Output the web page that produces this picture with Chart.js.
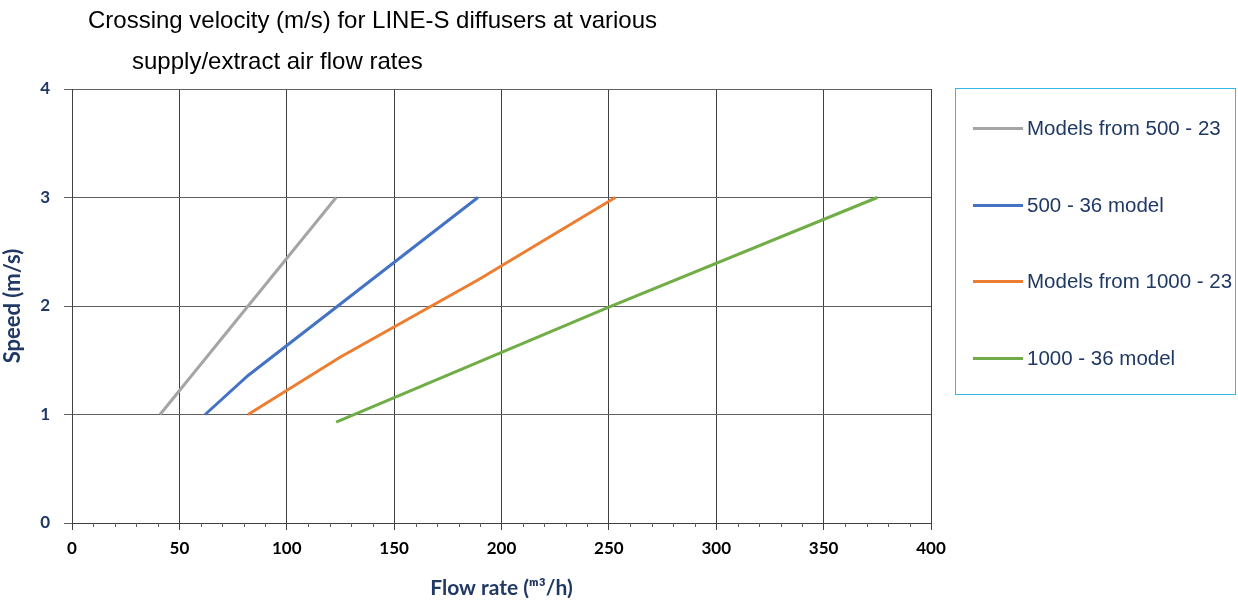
<!DOCTYPE html>
<html>
<head>
<meta charset="utf-8">
<script src="https://cdn.jsdelivr.net/npm/chart.js@4"></script>
<style>
  html, body { margin: 0; padding: 0; background: #fff; }
  #wrap { position: relative; width: 1238px; height: 601px; }
  #chart { position: absolute; left: 0; top: 0; }
  .title { position: absolute; font-family: "Liberation Sans", Arial, sans-serif; font-size: 24px; color: #000; white-space: nowrap; }
  #legend { position: absolute; left: 955px; top: 88px; width: 281px; height: 307px; border: 1px solid #33b8e8; box-sizing: border-box; }
  .item { position: absolute; left: 17px; height: 24px; display: flex; align-items: center; font-family: "Liberation Sans", Arial, sans-serif; font-size: 20.5px; color: #203864; white-space: nowrap; }
  .item span.swatch { display: inline-block; width: 50px; height: 3px; margin-right: 4px; }
</style>
</head>
<body>
<div id="wrap">
  <canvas id="chart" width="1238" height="601"></canvas>
  <div class="title" style="left:88px; top:6px;">Crossing velocity (m/s) for LINE-S diffusers at various</div>
  <div class="title" style="left:132px; top:47px;">supply/extract air flow rates</div>
  <div id="legend"></div>
</div>
<script>
// Crossing velocity chart - LINE-S diffusers

const seriesNames = ['Models from 500 - 23', '500 - 36 model', 'Models from 1000 - 23', '1000 - 36 model'];
const seriesColors = ['#a5a5a5', '#4472c4', '#ed7d31', '#70ad47'];

// flow rate (m3/h) and speed (m/s) per series
const grayFlow = [41, 82, 123];
const graySpeed = [1.0, 2.0, 3.0];
const blueFlow = [62, 82, 189];
const blueSpeed = [1.0, 1.36, 3.0];
const orangeFlow = [82, 125, 189, 253];
const orangeSpeed = [1.0, 1.53, 2.24, 3.0];
const greenFlow = [123, 250, 375];
const greenSpeed = [0.93, 1.99, 3.0];

const xTicks = [0, 50, 100, 150, 200, 250, 300, 350, 400];
const yTicks = [0, 1, 2, 3, 4];

function toPoints(xs, ys) {
    return xs.map((x, i) => ({ x: x, y: ys[i] }));
}

const allSeries = [
    toPoints(grayFlow, graySpeed),
    toPoints(blueFlow, blueSpeed),
    toPoints(orangeFlow, orangeSpeed),
    toPoints(greenFlow, greenSpeed)
];

const datasets = allSeries.map((pts, i) => ({
    label: seriesNames[i],
    data: pts,
    borderColor: seriesColors[i],
    backgroundColor: seriesColors[i],
    borderWidth: 3,
    pointRadius: 0,
    showLine: true,
    tension: 0
}));

// small ticks every 10 units under the x axis
const minorTicks = {
    id: 'minorTicks',
    afterDraw(chart) {
        const ctx = chart.ctx;
        const x = chart.scales.x;
        const bottom = chart.chartArea.bottom;
        ctx.save();
        ctx.strokeStyle = '#595959';
        ctx.lineWidth = 1;
        for (let v = 0; v <= 400; v += 10) {
            if (v % 50 === 0) continue;
            const px = Math.round(x.getPixelForValue(v)) + 0.5;
            ctx.beginPath();
            ctx.moveTo(px, bottom);
            ctx.lineTo(px, bottom + 4);
            ctx.stroke();
        }
        ctx.restore();
    }
};

const ctx = document.getElementById('chart').getContext('2d');
new Chart(ctx, {
    type: 'scatter',
    data: { datasets: datasets },
    options: {
        responsive: false,
        animation: false,
        layout: { padding: { left: 0, right: 307, top: 89, bottom: 0 } },
        plugins: {
            legend: { display: false },
            tooltip: { enabled: false }
        },
        scales: {
            x: {
                type: 'linear',
                min: 0,
                max: 400,
                afterBuildTicks: (scale) => { scale.ticks = xTicks.map(v => ({ value: v })); },
                afterFit: (scale) => { scale.height = 78; },
                grid: { color: '#404040', lineWidth: 1, tickLength: 7, drawTicks: true },
                border: { color: '#404040' },
                ticks: {
                    color: '#000',
                    padding: 8,
                    font: { family: 'Lato', size: 17, weight: 'bold' }
                },
                title: {
                    display: true,
                    text: 'Flow rate (ᵐ³/h)',
                    color: '#203864',
                    padding: { top: 2, bottom: 0 },
                    font: { family: 'Lato', size: 21, weight: 'bold' }
                }
            },
            y: {
                type: 'linear',
                min: 0,
                max: 4,
                afterBuildTicks: (scale) => { scale.ticks = yTicks.map(v => ({ value: v })); },
                afterFit: (scale) => { scale.width = 72; },
                grid: { color: '#606060', lineWidth: 1, tickLength: 8 },
                border: { color: '#404040' },
                ticks: {
                    color: '#203864',
                    padding: 14,
                    font: { family: 'Lato', size: 17, weight: 'bold' }
                },
                title: {
                    display: true,
                    text: 'Speed (m/s)',
                    color: '#203864',
                    padding: { top: 0, bottom: 2 },
                    font: { family: 'Lato', size: 22, weight: 'bold' }
                }
            }
        }
    },
    plugins: [minorTicks]
});

// HTML legend
const legend = document.getElementById('legend');
const itemTops = [27, 104, 180, 257];
seriesNames.forEach((name, i) => {
    const row = document.createElement('div');
    row.className = 'item';
    row.style.top = itemTops[i] + 'px';
    row.innerHTML = `<span class="swatch" style="background:${seriesColors[i]}"></span>${name}`;
    legend.appendChild(row);
});
</script>
</body>
</html>
